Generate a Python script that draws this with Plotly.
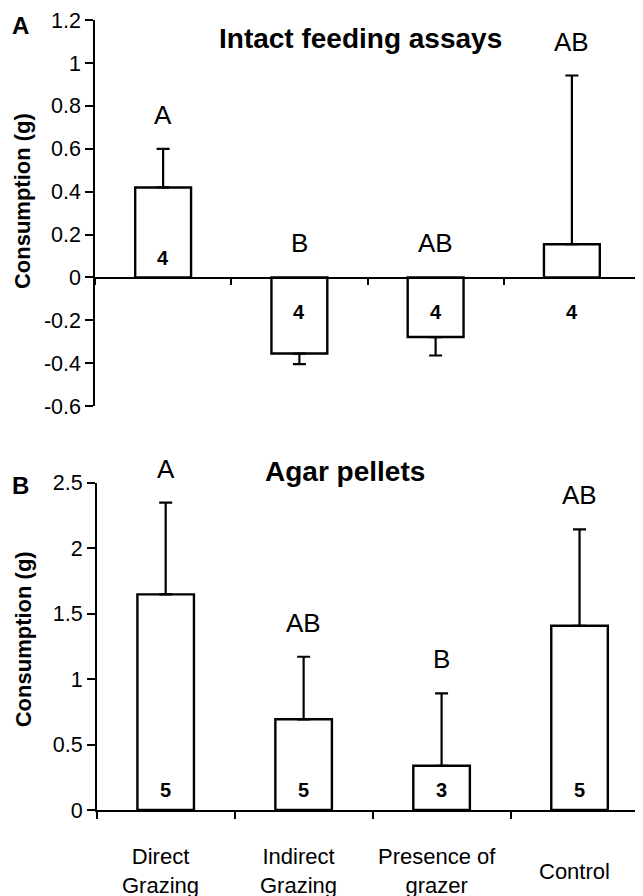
import plotly.graph_objects as go

# ---------------- data ----------------
CATEGORIES = ["Direct<br>Grazing", "Indirect<br>Grazing", "Presence of<br>grazer", "Control"]

A_MEAN = [0.42, -0.355, -0.278, 0.155]
A_ERR = [0.18, 0.049, 0.086, 0.787]
A_LETTERS = ["A", "B", "AB", "AB"]
A_N = ["4", "4", "4", "4"]
A_TICKS = [-0.6, -0.4, -0.2, 0, 0.2, 0.4, 0.6, 0.8, 1.0, 1.2]

B_MEAN = [1.648, 0.693, 0.338, 1.408]
B_ERR = [0.70, 0.478, 0.553, 0.736]
B_LETTERS = ["A", "AB", "B", "AB"]
B_N = ["5", "5", "3", "5"]
B_TICKS = [0, 0.5, 1, 1.5, 2, 2.5]

# ---------------- layout helpers ----------------
W, H = 643, 896
OX, OY = 8, 8          # page body margin of the html page
FONT = "Liberation Sans, Arial, Helvetica, sans-serif"
EPS = 1e-3


def py(p):
    return 1 - (p - OY) / H


def px(p):
    return (p - OX) / W


A_TOP, A_BOT = 20.0, 406.3
A_YDOM = [py(A_BOT), py(A_TOP)]
A_XDOM = [px(95), px(640)]
B_YDOM = [py(810), py(482.7)]
B_XDOM = [px(96.7), px(643)]

xs = list(range(len(CATEGORIES)))


def bar_trace(means, errs, xa, ya):
    plus = [e if m >= 0 else 0 for m, e in zip(means, errs)]
    minus = [0 if m >= 0 else e for m, e in zip(means, errs)]
    return go.Bar(
        x=xs, y=means, width=0.41, xaxis=xa, yaxis=ya,
        marker=dict(color="white", line=dict(color="black", width=2.4)),
        error_y=dict(type="data", symmetric=False, array=plus, arrayminus=minus,
                     color="black", thickness=2.2, width=6.5),
        hoverinfo="skip",
    )


fig = go.Figure()
fig.add_trace(bar_trace(A_MEAN, A_ERR, "x", "y"))
fig.add_trace(bar_trace(B_MEAN, B_ERR, "x2", "y2"))

axis_common = dict(showline=True, linecolor="black", linewidth=1.5, ticks="outside",
                   tickcolor="black", tickwidth=1.5, showgrid=False, zeroline=False,
                   fixedrange=True, automargin=False, ticklabeloverflow="allow")

tick_fmt = lambda v: f"{v:g}"

fig.update_layout(
    template="none",
    width=W, height=H, margin=dict(l=0, r=0, t=0, b=0, pad=0, autoexpand=False),
    paper_bgcolor="white", plot_bgcolor="white", showlegend=False,
    font=dict(family=FONT, color="black", size=22),
    xaxis=dict(domain=A_XDOM, range=[-0.5, 3.5], anchor="free",
               position=A_YDOM[0] + (A_YDOM[1] - A_YDOM[0]) * (0.6 / 1.8),
               tickmode="array", tickvals=[-0.5, 0.5, 1.5, 2.5, 3.5],
               showticklabels=False, ticklen=7, **axis_common),
    yaxis=dict(domain=A_YDOM, range=[A_TICKS[0] - EPS, A_TICKS[-1] + EPS], anchor="x",
               tickmode="array", tickvals=A_TICKS, ticktext=[tick_fmt(v) for v in A_TICKS],
               ticklen=8, tickfont=dict(size=21.5), **axis_common),
    xaxis2=dict(domain=B_XDOM, range=[-0.5, 3.46], anchor="y2",
                tickmode="array", tickvals=[-0.5, 0.5, 1.5, 2.5],
                showticklabels=False, ticklen=7, **axis_common),
    yaxis2=dict(domain=B_YDOM, range=[0, B_TICKS[-1] + EPS], anchor="x2",
                tickmode="array", tickvals=B_TICKS, ticktext=[tick_fmt(v) for v in B_TICKS],
                ticklen=8, tickfont=dict(size=21.5), **axis_common),
)

ann = []
A_PX_PER_UNIT = (A_BOT - A_TOP) / 1.8

# significance letters
for xref, yref, means, errs, letters in (("x", "y", A_MEAN, A_ERR, A_LETTERS),
                                         ("x2", "y2", B_MEAN, B_ERR, B_LETTERS)):
    for i, (m, e, t) in enumerate(zip(means, errs, letters)):
        anchor = m + e if m > 0 else 0
        ann.append(dict(x=i, y=anchor, xref=xref, yref=yref, text=t, showarrow=False,
                        xanchor="center", yanchor="middle", yshift=34, font=dict(size=26)))

# sample sizes
for i, (m, n) in enumerate(zip(A_MEAN, A_N)):
    inside = m * A_PX_PER_UNIT > 40
    ann.append(dict(x=i, y=0, xref="x", yref="y", text=f"<b>{n}</b>", showarrow=False,
                    xanchor="center", yanchor="middle", yshift=19 if inside else -35,
                    font=dict(size=20)))
for i, n in enumerate(B_N):
    ann.append(dict(x=i, y=0, xref="x2", yref="y2", text=f"<b>{n}</b>", showarrow=False,
                    xanchor="center", yanchor="middle", yshift=20, font=dict(size=20)))

# category labels
for i, c in enumerate(CATEGORIES):
    ann.append(dict(x=i, y=py(871), xref="x2", yref="paper", text=c, showarrow=False,
                    xanchor="center", yanchor="middle", xshift=-5, font=dict(size=22)))

# panel titles
ann.append(dict(x=px(360.8), y=py(38), xref="paper", yref="paper",
                text="<b>Intact feeding assays</b>", showarrow=False,
                xanchor="center", yanchor="middle", font=dict(size=28)))
ann.append(dict(x=px(344.8), y=py(471), xref="paper", yref="paper",
                text="<b>Agar pellets</b>", showarrow=False,
                xanchor="center", yanchor="middle", font=dict(size=28)))

# panel letters
ann.append(dict(x=px(20.5), y=py(26), xref="paper", yref="paper", text="<b>A</b>",
                showarrow=False, xanchor="center", yanchor="middle", font=dict(size=24)))
ann.append(dict(x=px(20.5), y=py(485), xref="paper", yref="paper", text="<b>B</b>",
                showarrow=False, xanchor="center", yanchor="middle", font=dict(size=24)))

# y-axis titles
for yc in (200.8, 639):
    ann.append(dict(x=px(23.3), y=py(yc), xref="paper", yref="paper",
                    text="<b>Consumption (g)</b>", textangle=-90, showarrow=False,
                    xanchor="center", yanchor="middle", font=dict(size=22)))

fig.update_layout(annotations=ann)

fig.write_html("out.html")
